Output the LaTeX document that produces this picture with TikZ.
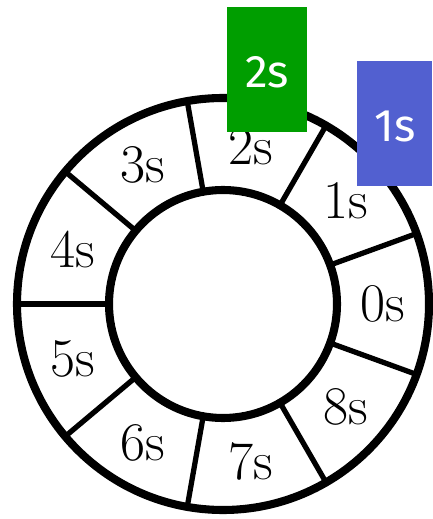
\documentclass[tikz,border=0pt]{standalone}
\usepackage{fontspec}
\newfontfamily\boxfont{Fira Sans}
\usetikzlibrary{positioning}
\definecolor{tagGreen}{RGB}{0,158,0}
\definecolor{tagBlue}{RGB}{82,96,208}
\tikzset{
  slot/.style={font=\fontsize{31}{37}\selectfont},
  tag/.style={draw=none,text=white,inner sep=0pt,font=\boxfont\fontsize{26}{30}\selectfont}
}

\begin{document}
\begin{tikzpicture}[x=0.02cm,y=0.02cm]
\useasboundingbox (0,0) rectangle (432,-519);
\begin{scope}[shift={(223,-304)}]
\draw[line width=4.6pt] (0,0) circle (206);
\draw[line width=4.6pt] (0,0) circle (114);
\begin{scope}[line width=3pt]
\draw (20:114)--(20:206);
\draw (60:114)--(60:206);
\draw (100:114)--(100:206);
\draw (140:114)--(140:206);
\draw (180:114)--(180:206);
\draw (220:114)--(220:206);
\draw (260:114)--(260:206);
\draw (300:114)--(300:206);
\draw (340:114)--(340:206);
\end{scope}
\node[slot] (s0) at (0:160)   {0s};
\node[slot] (s1) at (40:160)  {1s};
\node[slot] (s2) at (80:160)  {2s};
\node[slot] (s3) at (120:160) {3s};
\node[slot] (s4) at (160:160) {4s};
\node[slot] (s5) at (200:160) {5s};
\node[slot] (s6) at (240:160) {6s};
\node[slot] (s7) at (280:160) {7s};
\node[slot] (s8) at (320:160) {8s};
\end{scope}
\fill[tagGreen] (227,-7) rectangle (307,-132);
\fill[tagBlue] (357,-61) rectangle (432,-186);
\node[tag] (t2) at (267,-72)  {2s};
\node[tag] (t1) at (395,-126) {1s};
\end{tikzpicture}
\end{document}
